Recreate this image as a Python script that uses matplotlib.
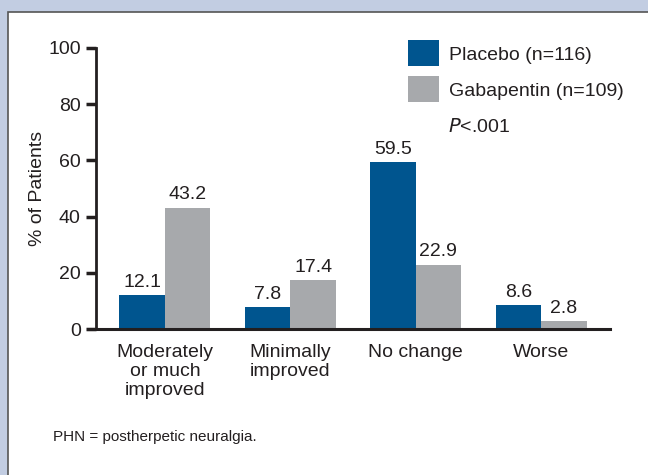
import numpy as np
import matplotlib.pyplot as plt
from matplotlib.patches import Rectangle

categories = ["Moderately\nor much\nimproved", "Minimally\nimproved", "No change", "Worse"]
placebo = [12.1, 7.8, 59.5, 8.6]
gabapentin = [43.2, 17.4, 22.9, 2.8]
labels = ["Placebo (n=116)", "Gabapentin (n=109)"]
yticks = [0, 20, 40, 60, 80, 100]

blue = "#00558f"
gray = "#a7a9ac"
ink = "#231f20"

plt.rcParams['font.family'] = ['Liberation Sans Narrow', 'Liberation Sans', 'DejaVu Sans']

fig = plt.figure(figsize=(6.48, 4.75), dpi=100)
fig.patch.set_facecolor("#c2cde2")
# white panel with dark edge on left/top
fig.patches.append(Rectangle((8 / 648, -0.1), 1.2, 1 - 12 / 475 + 0.1, transform=fig.transFigure,
                             facecolor="white", edgecolor="#555555", linewidth=1.2, zorder=-5))

ax = fig.add_axes([96 / 648, 1 - 329 / 475, (610 - 96) / 648, (329 - 48) / 475])
ax.set_facecolor("none")

x = np.arange(len(categories))
w = 0.363
b1 = ax.bar(x - w / 2, placebo, w, color=blue, label=labels[0])
b2 = ax.bar(x + w / 2, gabapentin, w, color=gray, label=labels[1])

for bars, vals in ((b1, placebo), (b2, gabapentin)):
    for bar, v in zip(bars, vals):
        ax.text(bar.get_x() + bar.get_width() / 2, v + 1.5, f"{v:.1f}",
                ha="center", va="bottom", fontsize=14, color=ink)

ax.set_xlim(-0.55, 3.55)
ax.set_ylim(0, 100)
ax.set_yticks(yticks)
ax.set_xticks(x)
ax.set_xticklabels(categories, fontsize=14, color=ink, linespacing=1.15)
ax.tick_params(axis="x", length=0, pad=11)
ax.tick_params(axis="y", length=7, width=2.5, labelsize=14, labelcolor=ink, color=ink, pad=4)
for s in ("top", "right", "bottom"):
    ax.spines[s].set_visible(False)
ax.spines["left"].set_linewidth(2)
ax.spines["left"].set_color(ink)
ax.axhline(0, xmin=-0.016, xmax=1, color=ink, linewidth=2.2, clip_on=False)

ax.set_ylabel("% of Patients", fontsize=14, color=ink, va="center")
ax.yaxis.set_label_coords(-0.113, 0.5)

leg = ax.legend(loc="upper left", bbox_to_anchor=(0.572, 1.09), frameon=False, fontsize=14,
                handlelength=1.6, handleheight=1.7, handletextpad=0.55, labelspacing=0.5,
                labelcolor=ink)
fig.text(448 / 648, 1 - 127 / 475, r"$P$<.001", fontsize=14, color=ink, va="center",
         math_fontfamily="dejavusans")

fig.text(53 / 648, 1 - 437 / 475, "PHN = postherpetic neuralgia.", fontsize=11, color=ink, va="center")

fig.savefig("out.png", dpi=100, facecolor=fig.get_facecolor())
